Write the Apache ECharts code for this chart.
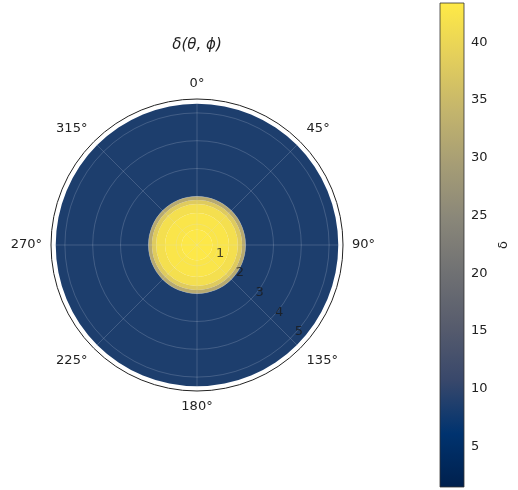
<!DOCTYPE html>
<html>
<head>
<meta charset="utf-8">
<script src="https://cdn.jsdelivr.net/npm/echarts@6/dist/echarts.min.js"></script>
<style>html,body{margin:0;padding:0;background:#fff}#c{width:518px;height:490px}</style>
</head>
<body>
<div id="c"></div>
<script>
// ---- data ----
const rInner = [0.25, 0.8, 1.4, 1.72, 1.87, 2.0];   // inner edge of each radial band
const rOuter = [0.8, 1.4, 1.72, 1.87, 2.0, 5.33];   // outer edge of each radial band
const deltaValues = [43, 42.6, 41.5, 38, 32, 8.5];   // δ value in each band
const radialTicks = [1, 2, 3, 4, 5];
const angleTicks = [0, 45, 90, 135, 180, 225, 270, 315];
const colorbarTicks = [5, 10, 15, 20, 25, 30, 35, 40];
const cbMin = 1.5, cbMax = 43.4;
const rMin = 0.25, rMax = 5.5;
const labelAngle = 135;

const cividis = ['#00204D','#00336F','#39486B','#575C6D','#707173','#8A8779','#A69D75','#C4B56C','#E4CF5B','#FFEA46'];

const bandData = rInner.map((r0, i) => [r0, rOuter[i], deltaValues[i]]);
const labelData = radialTicks.map(r => [r, labelAngle]);

const chart = echarts.init(document.getElementById('c'), null, {renderer: 'canvas'});
const FONT = 'DejaVu Sans';
const gridColor = 'rgba(215,220,235,0.2)';

chart.setOption({
  animation: false,
  textStyle: {fontFamily: FONT},
  graphic: [{
    type: 'text', x: 197, y: 45,
    style: {text: 'δ(θ, ϕ)', textAlign: 'center', textVerticalAlign: 'middle',
            font: 'italic 15px "DejaVu Sans"', fill: '#222'}
  }],
  polar: {center: [197, 245], radius: 146},
  angleAxis: {
    type: 'value', min: 0, max: 360, interval: 45, startAngle: 90, clockwise: true, z: 10,
    axisLine: {show: true, lineStyle: {color: '#222', width: 1}},
    axisTick: {show: false},
    axisLabel: {show: true, margin: 9,
      fontSize: 13, color: '#222', fontFamily: FONT,
      formatter: v => (angleTicks.indexOf(v) >= 0 ? v + '°' : '')},
    splitLine: {show: true, lineStyle: {color: gridColor, width: 1}}
  },
  radiusAxis: {
    type: 'value', min: rMin, max: rMax, z: 10,
    axisLine: {show: false},
    axisTick: {show: false, customValues: radialTicks},
    axisLabel: {show: false, customValues: radialTicks},
    splitLine: {show: true, lineStyle: {color: gridColor, width: 1}}
  },
  grid: {left: 440, top: 3, width: 24, height: 484},
  xAxis: {type: 'value', min: 0, max: 1, show: false},
  yAxis: {
    type: 'value', min: cbMin, max: cbMax, position: 'right',
    name: 'δ', nameLocation: 'middle', nameRotate: 90, nameGap: 33,
    nameTextStyle: {fontSize: 13, color: '#222', fontFamily: FONT},
    axisLine: {show: false},
    axisTick: {show: true, length: 4, lineStyle: {color: '#222'}, customValues: colorbarTicks},
    axisLabel: {show: true, margin: 7, fontSize: 13, color: '#222', fontFamily: FONT, customValues: colorbarTicks},
    splitLine: {show: false}
  },
  visualMap: {
    show: false, type: 'continuous', min: cbMin, max: cbMax, dimension: 2, seriesIndex: 0,
    inRange: {color: cividis}
  },
  series: [
    {
      type: 'custom', coordinateSystem: 'polar', data: bandData,
      renderItem: function (params, api) {
        const cs = params.coordSys;
        const cx = cs.cx, cy = cs.cy;
        function pr(v) {
          if (v <= rMin) return 0;
          const p = api.coord([v, 0]);
          return Math.hypot(p[0] - cx, p[1] - cy);
        }
        return {
          type: 'sector',
          shape: {cx: cx, cy: cy, r0: pr(api.value(0)), r: pr(api.value(1)), startAngle: 0, endAngle: Math.PI * 2},
          style: {fill: api.visual('color'), stroke: null}
        };
      }
    },
    {
      type: 'scatter', coordinateSystem: 'polar', data: labelData, symbolSize: 0, z: 20,
      label: {show: true, position: 'inside', offset: [8.5, -6.5], fontSize: 13, color: '#1a1a1a',
              fontFamily: FONT, formatter: p => String(p.value[0])}
    },
    {
      type: 'custom', coordinateSystem: 'cartesian2d', data: [[0, cbMin, 1, cbMax]],
      renderItem: function (params, api) {
        const p0 = api.coord([api.value(0), api.value(1)]);
        const p1 = api.coord([api.value(2), api.value(3)]);
        return {
          type: 'rect',
          shape: {x: p0[0], y: p1[1], width: p1[0] - p0[0], height: p0[1] - p1[1]},
          style: {
            fill: new echarts.graphic.LinearGradient(0, 1, 0, 0,
              cividis.map((c, i) => ({offset: i / (cividis.length - 1), color: c}))),
            stroke: '#333', lineWidth: 0.8
          }
        };
      }
    }
  ]
});
</script>
</body>
</html>
